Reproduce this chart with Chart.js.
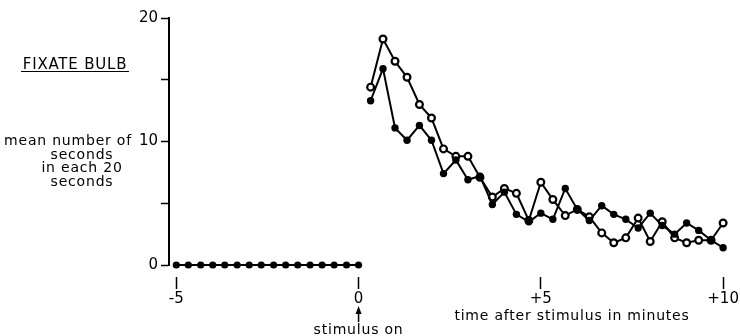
<!DOCTYPE html>
<html>
<head>
<meta charset="utf-8">
<script src="https://cdn.jsdelivr.net/npm/chart.js@4.4.1/dist/chart.umd.min.js"></script>
<style>
  html, body { margin: 0; padding: 0; background: #fff; }
  #wrap { width: 740px; height: 336px; }
</style>
</head>
<body>
<div id="wrap"><canvas id="chart" width="740" height="336"></canvas></div>
<script>
// time in minutes, one reading every 20 seconds
const preTimes = [-5, -4.67, -4.33, -4, -3.67, -3.33, -3, -2.67, -2.33, -2, -1.67, -1.33, -1, -0.67, -0.33, 0];
const preValues = [0, 0, 0, 0, 0, 0, 0, 0, 0, 0, 0, 0, 0, 0, 0, 0];

const postTimes = [0.33, 0.67, 1, 1.33, 1.67, 2, 2.33, 2.67, 3, 3.33,
                   3.67, 4, 4.33, 4.67, 5, 5.33, 5.67, 6, 6.33, 6.67,
                   7, 7.33, 7.67, 8, 8.33, 8.67, 9, 9.33, 9.67, 10];
// filled circles
const filledValues = [13.3, 15.9, 11.1, 10.1, 11.3, 10.1, 7.4, 8.5, 6.9, 7.2,
                      4.9, 5.9, 4.1, 3.5, 4.2, 3.7, 6.2, 4.5, 3.6, 4.8,
                      4.1, 3.7, 3.0, 4.2, 3.2, 2.5, 3.4, 2.8, 2.0, 1.4];
// open circles
const openValues = [14.4, 18.3, 16.5, 15.2, 13.0, 11.9, 9.4, 8.8, 8.8, 7.1,
                    5.5, 6.2, 5.8, 3.6, 6.7, 5.3, 4.0, 4.5, 3.9, 2.6,
                    1.8, 2.2, 3.8, 1.9, 3.5, 2.2, 1.8, 2.0, 2.0, 3.4];

const xTicks = [-5, 0, 5, 10];
const yTicks = [0, 5, 10, 15, 20];
const yLabels = [0, 10, 20];

const FONT = '"DejaVu Sans", sans-serif';

function pts(xs, ys) {
    return xs.map((x, i) => ({ x: x, y: ys[i] }));
}

// hand lettering around the plot
const notes = {
    id: 'notes',
    afterDraw(chart) {
        const ctx = chart.ctx;
        const x0 = chart.scales.x.getPixelForValue(0);
        ctx.save();
        ctx.fillStyle = '#000';
        ctx.strokeStyle = '#000';
        ctx.letterSpacing = '0.8px';
        ctx.textAlign = 'center';
        ctx.textBaseline = 'alphabetic';

        ctx.font = '15px ' + FONT;
        ctx.fillText('FIXATE BULB', 75, 69);
        ctx.lineWidth = 1;
        ctx.beginPath();
        ctx.moveTo(21, 71.5);
        ctx.lineTo(129, 71.5);
        ctx.stroke();

        ctx.font = '14px ' + FONT;
        ctx.fillText('mean number of', 68, 145);
        ctx.fillText('seconds', 82, 159);
        ctx.fillText('in each 20', 82, 172);
        ctx.fillText('seconds', 82, 186);

        ctx.fillText('time after stimulus in minutes', 572, 320);

        // arrow under the zero tick
        ctx.lineWidth = 1.5;
        ctx.beginPath();
        ctx.moveTo(x0, 322);
        ctx.lineTo(x0, 311);
        ctx.stroke();
        ctx.beginPath();
        ctx.moveTo(x0, 306);
        ctx.lineTo(x0 - 3, 314);
        ctx.lineTo(x0 + 3, 314);
        ctx.closePath();
        ctx.fill();
        ctx.fillText('stimulus on', x0, 334);
        ctx.restore();
    }
};

const lineStyle = {
    borderColor: '#000',
    borderWidth: 2,
    tension: 0,
    clip: false
};

new Chart(document.getElementById('chart'), {
    type: 'line',
    data: {
        datasets: [
            Object.assign({
                label: 'filled',
                data: pts(postTimes, filledValues),
                pointRadius: 3.7,
                pointBackgroundColor: '#000',
                pointBorderColor: '#000',
                pointBorderWidth: 0
            }, lineStyle),
            Object.assign({
                label: 'open',
                data: pts(postTimes, openValues),
                pointRadius: 3.4,
                pointBackgroundColor: '#fff',
                pointBorderColor: '#000',
                pointBorderWidth: 2.2
            }, lineStyle),
            Object.assign({
                label: 'before stimulus',
                data: pts(preTimes, preValues),
                pointRadius: 3.6,
                pointBackgroundColor: '#000',
                pointBorderColor: '#000',
                pointBorderWidth: 0
            }, lineStyle)
        ]
    },
    options: {
        responsive: false,
        animation: false,
        layout: { padding: { top: 18, right: 4, left: 0, bottom: 0 } },
        plugins: {
            legend: { display: false },
            tooltip: { enabled: false }
        },
        scales: {
            x: {
                type: 'linear',
                min: -5.2,
                max: 10.15,
                afterBuildTicks: s => { s.ticks = xTicks.map(v => ({ value: v })); },
                afterFit: s => { s.height = 71; },
                border: { display: false },
                grid: {
                    drawOnChartArea: false,
                    drawTicks: true,
                    tickLength: 24,
                    tickWidth: 1.5,
                    tickColor: '#000',
                    tickBorderDash: [0, 12, 12, 0]
                },
                ticks: {
                    padding: 1,
                    color: '#000',
                    autoSkip: false,
                    maxRotation: 0,
                    font: { family: FONT, size: 15 },
                    callback: v => (v > 0 ? '+' + v : String(v))
                }
            },
            y: {
                min: 0,
                max: 20,
                afterBuildTicks: s => { s.ticks = yTicks.map(v => ({ value: v })); },
                afterFit: s => { s.width = 169; },
                border: { display: true, color: '#000', width: 2 },
                grid: {
                    drawOnChartArea: false,
                    tickLength: 8,
                    tickWidth: 1.5,
                    tickColor: '#000'
                },
                ticks: {
                    padding: 3,
                    color: '#000',
                    font: { family: FONT, size: 15 },
                    callback: v => (yLabels.includes(v) ? String(v) : '')
                }
            }
        }
    },
    plugins: [notes]
});
</script>
</body>
</html>
